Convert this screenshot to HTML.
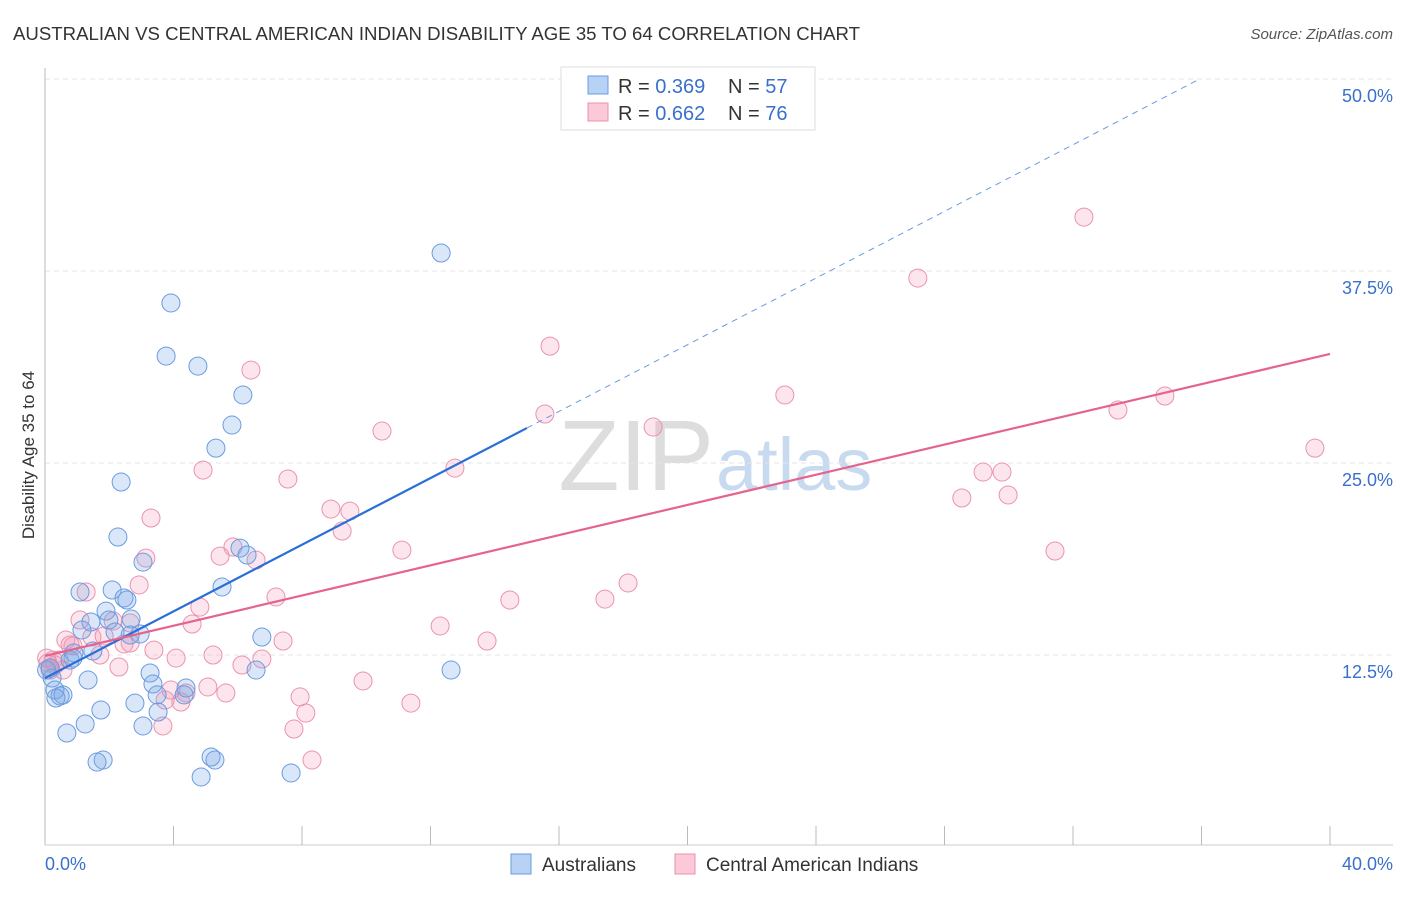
<!DOCTYPE html>
<html><head><meta charset="utf-8"><style>
body{margin:0;background:#fff;font-family:"Liberation Sans",sans-serif}
svg text{font-family:"Liberation Sans",sans-serif}
</style></head><body>
<svg id="chart" width="1406" height="892">
<text x="13" y="40" font-size="18" fill="#333" textLength="847" lengthAdjust="spacingAndGlyphs">AUSTRALIAN VS CENTRAL AMERICAN INDIAN DISABILITY AGE 35 TO 64 CORRELATION CHART</text>
<text x="1393" y="39" font-size="15" fill="#555" font-style="italic" text-anchor="end">Source: ZipAtlas.com</text>
<text x="714" y="490" font-size="100" fill="#ddd" text-anchor="end" font-family="Liberation Serif">ZIP</text>
<text x="716" y="490" font-size="74" fill="#c8daf0">atlas</text>
<text transform="translate(34,455) rotate(-90)" font-size="17" fill="#333" text-anchor="middle">Disability Age 35 to 64</text>
<g id="grid"></g><g id="marks"></g>
<g>
<rect x="561" y="67" width="254" height="63" fill="#fff" stroke="#ddd"/>
<rect x="588" y="76" width="20" height="18" fill="#b8d2f5" stroke="#6a9be0"/>
<rect x="588" y="103" width="20" height="18" fill="#fbc9d7" stroke="#ee8fab"/>
<text x="618" y="93" font-size="20" fill="#333">R = <tspan fill="#3a70cc">0.369</tspan><tspan x="728">N = </tspan><tspan fill="#3a70cc">57</tspan></text>
<text x="618" y="120" font-size="20" fill="#333">R = <tspan fill="#3a70cc">0.662</tspan><tspan x="728">N = </tspan><tspan fill="#3a70cc">76</tspan></text>
</g>
<g>
<rect x="511" y="854" width="20" height="20" fill="#b8d2f5" stroke="#6a9be0"/>
<text x="542" y="871" font-size="19" fill="#333">Australians</text>
<rect x="675" y="854" width="20" height="20" fill="#fbc9d7" stroke="#ee8fab"/>
<text x="706" y="871" font-size="19" fill="#333">Central American Indians</text>
</g>
</svg>
<script>
const yTicks=[12.5,25,37.5,50];
const yTickLabels=["12.5%","25.0%","37.5%","50.0%"];
const xTickLabels=["0.0%","40.0%"];
const blueX=[12.33,3.92,3.77,4.76,6.16,5.82,5.32,2.37,2.27,3.05,6.07,6.29,5.51,1.09,2.09,2.46,2.55,1.90,2.68,1.43,1.99,1.15,2.18,2.96,2.65,1.49,0.90,0.78,0.87,6.75,6.57,12.64,3.27,1.34,3.36,3.49,4.39,4.33,0.22,0.31,0.47,0.56,0.34,2.80,1.74,3.52,1.25,3.05,0.68,5.29,5.17,1.81,1.62,4.86,7.66,0.05,0.16];
const blueY=[38.67,35.42,31.96,31.31,29.43,27.47,25.97,23.76,20.18,18.55,19.46,19.01,16.93,16.60,16.73,16.21,16.08,15.36,14.84,14.65,14.78,14.13,14.00,13.87,13.80,12.76,12.63,12.17,12.30,13.67,11.52,11.52,11.33,10.87,10.61,9.90,10.35,9.90,11.00,10.22,9.83,9.90,9.70,9.37,8.92,8.79,8.01,7.88,7.42,5.66,5.86,5.66,5.53,4.56,4.82,11.52,11.65];
const pinkX=[32.34,27.17,15.72,6.41,23.03,34.86,33.40,15.56,18.93,10.49,39.53,12.76,4.92,7.56,29.20,29.79,28.54,29.98,8.90,9.49,3.30,9.25,31.44,11.11,5.85,3.14,5.45,6.57,18.15,2.93,1.28,17.43,14.47,7.19,4.82,1.09,2.12,4.58,12.30,2.65,0.65,1.46,2.46,7.41,13.76,0.87,3.39,5.23,6.75,4.08,1.71,0.44,6.13,2.30,0.31,0.09,0.56,9.90,5.07,3.92,4.39,5.63,7.94,3.74,4.23,11.39,8.12,3.67,7.75,8.31,0.16,0.25,0.78,1.84,2.65,0.05];
const pinkY=[41.01,37.04,32.61,31.05,29.43,29.36,28.45,28.19,27.34,27.08,25.97,24.67,24.54,23.96,24.41,24.41,22.72,22.92,22.00,21.87,21.42,20.57,19.27,19.33,19.53,18.81,18.94,18.68,17.19,17.06,16.60,16.14,16.08,16.28,15.62,14.78,14.71,14.52,14.39,14.58,13.48,13.67,13.22,13.41,13.41,13.09,12.82,12.50,12.24,12.30,12.50,12.17,11.85,11.72,11.85,11.98,11.52,10.81,10.42,10.22,10.03,10.03,9.77,9.57,9.44,9.37,8.72,7.88,7.68,5.66,11.52,12.17,13.15,13.74,13.28,12.30];
const blueTrend=[11.0,1.085];
const pinkTrend=[12.44,0.4915];
const NS="http://www.w3.org/2000/svg";
const sx=v=>45+v/40*1285, sy=v=>847-v*15.36;
function mk(t,a,p){const e=document.createElementNS(NS,t);for(const k in a)e.setAttribute(k,a[k]);p.appendChild(e);return e;}
const grid=document.getElementById('grid'),marks=document.getElementById('marks');
yTicks.forEach((t,i)=>{
 const l=mk('line',{x1:45,x2:1393,y1:sy(t),y2:sy(t),stroke:'#e4e4e4','stroke-dasharray':'5,4'},grid);
 
 
 const tx=mk('text',{x:1393,y:sy(t)+23,'font-size':18,fill:'#3a70cc','text-anchor':'end'},grid);
 tx.textContent=yTickLabels[i];
 
 
});
mk('line',{x1:45,x2:45,y1:68,y2:845,stroke:'#bbb'},grid);
mk('line',{x1:45,x2:1393,y1:845,y2:845,stroke:'#ccc'},grid);
for(let i=0;i<=10;i++){const x=sx(i*4);const t=mk('line',{x1:x,x2:x,y1:826,y2:845,stroke:'#bbb'},grid);
 
 }
[[0,45,'start'],[40,1393,'end']].forEach((d,i)=>{const t=mk('text',{x:d[1],y:870,'font-size':18,fill:'#3a70cc','text-anchor':d[2]},grid);t.textContent=xTickLabels[i];
 
 });
pinkX.forEach((x,i)=>{const c=mk('circle',{cx:sx(x),cy:sy(pinkY[i]),r:9,fill:'rgba(244,150,178,0.25)',stroke:'#eb93ae','stroke-width':1},marks);
 
 });
blueX.forEach((x,i)=>{const c=mk('circle',{cx:sx(x),cy:sy(blueY[i]),r:9,fill:'rgba(120,165,230,0.27)',stroke:'#6a9be0','stroke-width':1},marks);
 
 });
const bt=mk('line',{x1:sx(0),y1:sy(blueTrend[0]),x2:sx(15),y2:sy(blueTrend[0]+15*blueTrend[1]),stroke:'#2a6fd6','stroke-width':2.2},marks);


const xe=(50-blueTrend[0])/blueTrend[1];
const bd=mk('line',{x1:sx(15),y1:sy(blueTrend[0]+15*blueTrend[1]),x2:sx(xe),y2:sy(50),stroke:'#6a9be0','stroke-width':1,'stroke-dasharray':'6,5'},marks);


const pt=mk('line',{x1:sx(0),y1:sy(pinkTrend[0]),x2:sx(40),y2:sy(pinkTrend[0]+40*pinkTrend[1]),stroke:'#e5648e','stroke-width':2.2},marks);


</script>
</body></html>
